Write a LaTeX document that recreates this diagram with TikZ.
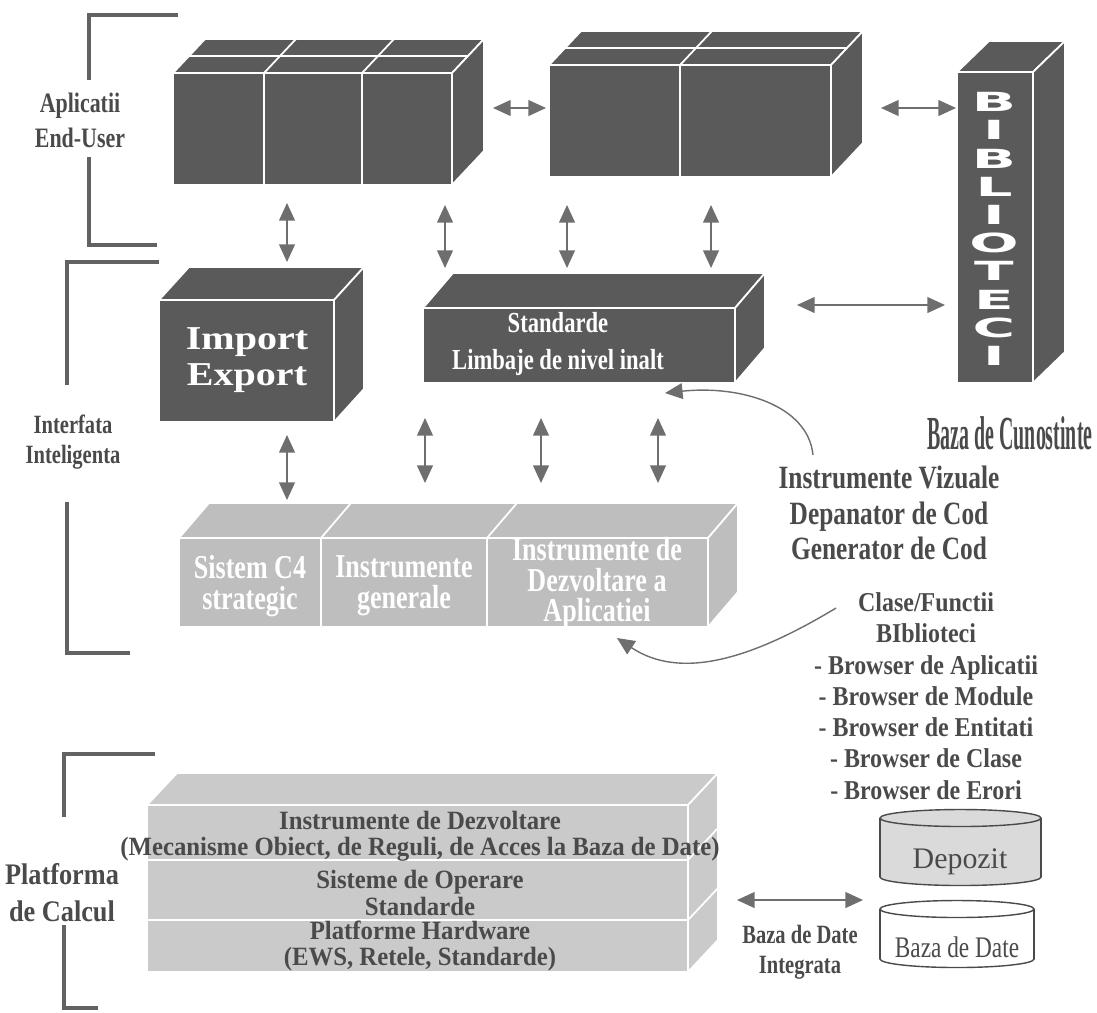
\documentclass[tikz,border=0pt]{standalone}
\usepackage{fontspec}
\setmainfont{Liberation Serif}
\newfontfamily\narrowfont[FakeStretch=0.78]{Liberation Serif}
\newfontfamily\midfont[FakeStretch=0.88]{Liberation Serif}
\newfontfamily\layerfont[FakeStretch=0.94]{Liberation Serif}
\newfontfamily\thinfont[FakeStretch=0.42]{Liberation Serif}
\newfontfamily\broadfont[FakeStretch=1.2]{Liberation Serif}
\newfontfamily\widefont{DejaVu Sans}
\usetikzlibrary{arrows.meta, calc}
\definecolor{c1}{HTML}{5A5A5A}
\definecolor{c2}{HTML}{BEBEBE}
\definecolor{c3}{HTML}{CACACA}
\definecolor{c4}{HTML}{DADADA}
\definecolor{inkgray}{HTML}{4A4A4A}
\definecolor{arrgray}{HTML}{6E6E6E}
\definecolor{brkgray}{HTML}{626262}

\begin{document}
\begin{tikzpicture}[x=0.02cm, y=-0.02cm,
    every node/.style={inner sep=0pt, align=center},
    lbl/.style={font=\narrowfont\bfseries\fontsize{16}{20}\selectfont, text=inkgray},
    side/.style={font=\narrowfont\bfseries\fontsize{15}{17}\selectfont, text=inkgray},
    wht/.style={font=\narrowfont\bfseries\fontsize{16.5}{21.5}\selectfont, text=white},
    pale/.style={font=\narrowfont\bfseries\fontsize{19}{17.5}\selectfont, text=white},
    layer/.style={font=\layerfont\bfseries\fontsize{15}{15}\selectfont, text=inkgray},
    lst/.style={font=\narrowfont\bfseries\fontsize{18.5}{20.4}\selectfont, text=inkgray},
    brw/.style={font=\midfont\bfseries\fontsize{15.5}{17.8}\selectfont, text=inkgray},
    bib/.style={font=\widefont\bfseries\fontsize{15}{15}\selectfont, text=white},
    edge/.style={draw=white, line width=1pt},
    brk/.style={draw=brkgray, line width=2.3pt},
    dbl/.style={{Triangle[length=10pt, width=9pt]}-{Triangle[length=10pt, width=9pt]},
                line width=0.8pt, color=arrgray},
    crv/.style={-{Triangle[length=10pt, width=9pt]}, line width=0.8pt, color=arrgray},
    cyl/.style={draw=inkgray, line width=0.8pt},
]
\useasboundingbox (0,0) rectangle (1097,1012);

% ------------------------------------------------ the three brackets
\draw[brk] (178,15) -- (89,15) -- (89,80);
\draw[brk] (89,157) -- (89,245) -- (157,245);
\node[lbl] (apl) at (80,120) {Aplicatii\\End-User};

\draw[brk] (159,262) -- (67,262) -- (67,385);
\draw[brk] (67,502) -- (67,653) -- (130,653);
\node[side] (intf) at (73,442) {Interfata\\Inteligenta};

\draw[brk] (155,754) -- (64,754) -- (64,817);
\draw[brk] (64,925) -- (64,1008) -- (98,1008);
\node[font=\midfont\bfseries\fontsize{17}{21}\selectfont, text=inkgray] (plat) at (62,893)
     {Platforma\\de Calcul};

% ------------------------------------------------ the boxes, front/top/side
\foreach \xa/\ya/\xb/\yb/\dx/\dy/\fc in {173/73/452/185/32/-34/c1,
    549/65/831/177/32/-34/c1, 957/72/1033/383/32/-31/c1,
    159/300/334/422/30/-33/c1, 423/308/735/383/30/-35/c1,
    179/538/708/627/30/-35/c2, 147/805/688/972/30/-32/c3}{
  \filldraw[fill=\fc, edge] (\xa,\ya) rectangle (\xb,\yb);
  \filldraw[fill=\fc, edge] (\xa,\ya) -- ++(\dx,\dy) -- ({\xb+\dx},{\ya+\dy})
      -- (\xb,\ya) -- cycle;
  \filldraw[fill=\fc, edge] (\xb,\ya) -- ({\xb+\dx},{\ya+\dy})
      -- ({\xb+\dx},{\yb+\dy}) -- (\xb,\yb) -- cycle;}

% cells of the end-user blocks
\foreach \x in {264,362}{ \draw[edge] (\x,185) -- (\x,73) -- ++(32,-34);}
\draw[edge] (189,56) -- (468,56);
\draw[edge] (680,177) -- (680,65) -- ++(32,-34);
\draw[edge] (565,48) -- (847,48);
% cells of the tool block and layers of the platform
\foreach \x in {321,487}{ \draw[edge] (\x,627) -- (\x,538) -- ++(30,-35);}
\foreach \y in {860,920}{ \draw[edge] (147,\y) -- (688,\y) -- ++(30,-32);}

% ------------------------------------------------ texts on the boxes
\foreach \l [count=\i] in {B,I,B,L,I,O,T,E,C,I}{
  \node[bib] (bib\i) at (994,{102+(\i-1)*28.2}) {\scalebox{2.2}[1]{\l}};}
\node[font=\broadfont\bfseries\fontsize{19}{20.5}\selectfont, text=white]
     (impex) at (247,360) {Import\\Export};
\node[wht] (std) at (558,344) {Standarde\\Limbaje de nivel inalt};
\node[pale] (c4s) at (250,586) {Sistem C4\\strategic};
\node[pale] (gen) at (404,586) {Instrumente\\generale};
\node[pale] (dzv) at (597,583) {Instrumente de\\Dezvoltare a\\Aplicatiei};
\node[layer] (lay1) at (420,836)
     {Instrumente de Dezvoltare\\(Mecanisme Obiect, de Reguli, de Acces la Baza de Date)};
\node[layer] (lay2) at (420,893) {Sisteme de Operare\\Standarde};
\node[layer] (lay3) at (420,946) {Platforme Hardware\\(EWS, Retele, Standarde)};

\node[font=\thinfont\bfseries\fontsize{27}{27}\selectfont, text=inkgray] (know) at (1010,433)
     {Baza de Cunostinte};

% ------------------------------------------------ the two stores
\filldraw[cyl, fill=c4] (960.5,877) ellipse [x radius=80.5, y radius=8.5];
\fill[c4] (880,818) rectangle (1041,877);
\draw[cyl] (880,818) -- (880,877) (1041,818) -- (1041,877);
\filldraw[cyl, fill=c4] (960.5,818) ellipse [x radius=80.5, y radius=8.5];
\node[font=\fontsize{17}{18}\selectfont, text=inkgray] (depo) at (960,862) {Depozit};

\draw[cyl] (957,959) ellipse [x radius=77, y radius=8.5];
\fill[white] (880,909) rectangle (1034,959);
\draw[cyl] (880,909) -- (880,959) (1034,909) -- (1034,959);
\draw[cyl] (957,909) ellipse [x radius=77, y radius=8.5];
\node[font=\narrowfont\fontsize{17}{18}\selectfont, text=inkgray] (bdd) at (957,947)
     {Baza de Date};

\node[side] (integ) at (800,952) {Baza de Date\\Integrata};

% ------------------------------------------------ lists on the right
\node[lst] (viz) at (889,513) {Instrumente Vizuale\\Depanator de Cod\\Generator de Cod};
\node[brw] (cls) at (926,696) {Clase/Functii\\BIblioteci\\- Browser de Aplicatii\\
     - Browser de Module\\- Browser de Entitati\\- Browser de Clase\\- Browser de Erori};

% ------------------------------------------------ arrows
\foreach \n/\xa/\ya/\xb/\yb in {ab/493/108/546/108, bl/881/108/956/108,
    sl/797/305/945/305, pd/737/900/863/900,
    v1/287/203/287/262, v2/445/205/445/268, v3/567/205/567/268, v4/711/205/711/268,
    w1/287/435/287/500, w2/425/418/425/483, w3/541/418/541/483, w4/658/418/658/483}{
  \coordinate (\n1) at (\xa,\ya);
  \coordinate (\n2) at (\xb,\yb);
  \draw[dbl] (\n1) -- (\n2);}

\coordinate (vizfrom) at (813,455);
\coordinate (vizto) at (665,393);
\draw[crv] (vizfrom) .. controls (808,405) and (740,385) .. (vizto);
\coordinate (clsfrom) at (836,608);
\coordinate (clsto) at (617,638);
\draw[crv] (clsfrom) .. controls (750,660) and (680,680) .. (clsto);

\end{tikzpicture}
\end{document}
